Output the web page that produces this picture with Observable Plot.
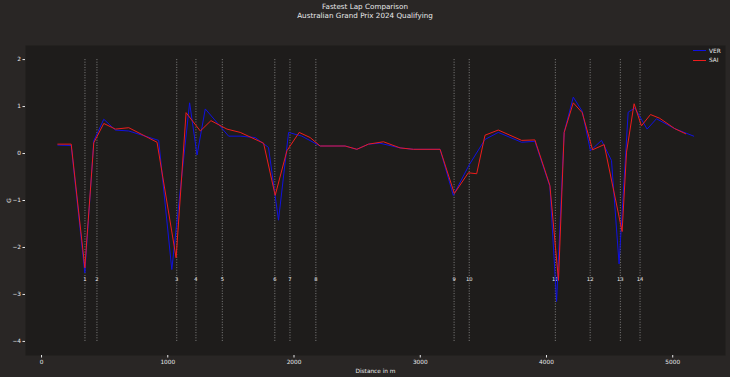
<!DOCTYPE html>
<html>
<head>
<meta charset="utf-8">
<script src="https://cdn.jsdelivr.net/npm/d3@7"></script>
<script src="https://cdn.jsdelivr.net/npm/@observablehq/plot@0.6"></script>
<style>
  html, body { margin: 0; padding: 0; background: #292625; }
  #page { position: relative; width: 730px; height: 377px; background: #292625; font-family: "DejaVu Sans", sans-serif; color: #e8e8ea; }
  #title { height: 24px; text-align: center; font-size: 7.2px; line-height: 9px; padding-top: 2px; box-sizing: border-box; }
  #legend { position: absolute; left: 689px; top: 46px; width: 34px; font-size: 5.8px; }
  .row { display: flex; align-items: center; height: 9.5px; }
  .sw { width: 13px; height: 0; border-top: 1.2px solid; margin-right: 3px; margin-left: 4px; }
</style>
</head>
<body>
<div id="page">
  <div id="title">Fastest Lap Comparison<br>Australian Grand Prix 2024 Qualifying</div>
  <div id="chart"></div>
  <div id="legend"></div>
</div>
<script>
// Data
const drivers = ["VER", "SAI"];
const driverColors = ["#1010e0", "#ee1c1c"];

const verDist = [129, 235, 343, 414, 493, 585, 691, 928, 1032, 1173, 1232, 1297, 1482, 1574, 1693, 1798, 1877, 1957, 2062, 2207, 2405, 2498, 2590, 2680, 2840, 2945, 3157, 3262, 3388, 3513, 3618, 3803, 3908, 4027, 4080, 4140, 4212, 4283, 4348, 4436, 4515, 4575, 4647, 4700, 4797, 4871, 5016, 5166];
const verVal  = [0.18, 0.17, -2.54, 0.27, 0.73, 0.50, 0.48, 0.28, -2.47, 1.08, -0.03, 0.95, 0.37, 0.37, 0.34, 0.13, -1.42, 0.45, 0.37, 0.16, 0.16, 0.09, 0.20, 0.22, 0.12, 0.09, 0.09, -0.89, -0.24, 0.30, 0.45, 0.24, 0.26, -0.70, -3.15, 0.45, 1.20, 0.90, 0.06, 0.28, -0.15, -2.35, 0.88, 0.97, 0.52, 0.74, 0.53, 0.37];

const saiDist = [129, 235, 343, 414, 493, 585, 691, 915, 1066, 1145, 1258, 1342, 1469, 1574, 1759, 1851, 1944, 2041, 2128, 2207, 2405, 2498, 2590, 2709, 2840, 2945, 3157, 3270, 3381, 3447, 3513, 3618, 3803, 3908, 4027, 4095, 4140, 4212, 4283, 4365, 4457, 4599, 4634, 4694, 4752, 4824, 4897, 5016, 5103];
const saiVal  = [0.20, 0.20, -2.43, 0.23, 0.64, 0.52, 0.55, 0.24, -2.22, 0.87, 0.48, 0.70, 0.52, 0.45, 0.22, -0.89, 0.06, 0.45, 0.34, 0.16, 0.16, 0.09, 0.20, 0.25, 0.12, 0.09, 0.09, -0.85, -0.41, -0.43, 0.39, 0.50, 0.28, 0.29, -0.68, -2.70, 0.45, 1.08, 0.87, 0.08, 0.19, -1.66, 0.03, 1.06, 0.59, 0.83, 0.75, 0.53, 0.42];

const cornerNumbers = ["1", "2", "3", "4", "5", "6", "7", "8", "9", "10", "11", "12", "13", "14"];
const cornerDist = [344, 439, 1071, 1223, 1432, 1848, 1968, 2173, 3268, 3388, 4070, 4346, 4585, 4741];
const cornerLineRange = [-4, 2];
const cornerLabelY = -2.68;

const xTicks = [0, 1000, 2000, 3000, 4000, 5000];
const yTicks = [-4, -3, -2, -1, 0, 1, 2];
const xLimits = [-127, 5418];
const yLimits = [-4.3, 2.3];

const ver = verDist.map((d, i) => ({d, v: verVal[i]}));
const sai = saiDist.map((d, i) => ({d, v: saiVal[i]}));
const corners = cornerDist.map((d, i) => ({d, n: cornerNumbers[i], y1: cornerLineRange[0], y2: cornerLineRange[1], ly: cornerLabelY}));

const fmt = d => (d < 0 ? "\u2212" + Math.abs(d) : String(d));

const chart = Plot.plot({
  width: 730,
  height: 353,
  marginLeft: 25,
  marginRight: 5,
  marginTop: 21,
  marginBottom: 22,
  style: {background: "transparent", color: "#e8e8ea", fontFamily: "DejaVu Sans, sans-serif", fontSize: "5.8px"},
  x: {domain: xLimits},
  y: {domain: yLimits},
  marks: [
    Plot.frame({fill: "#1e1c1b", stroke: "none"}),
    Plot.axisX({ticks: xTicks, tickFormat: fmt, tickSize: 2.5, tickPadding: 2, stroke: "#e8e8ea", label: "Distance in m", labelAnchor: "center", labelArrow: "none", labelOffset: 17}),
    Plot.axisY({ticks: yTicks, tickFormat: fmt, tickSize: 2.5, tickPadding: 2, stroke: "#e8e8ea", label: "G", labelAnchor: "center", labelArrow: "none", labelOffset: 19}),
    Plot.ruleX(corners, {x: "d", y1: "y1", y2: "y2", stroke: "#9a9a9a", strokeWidth: 0.8, strokeDasharray: "1,1.6"}),
    Plot.text(corners, {x: "d", y: "ly", text: "n", fill: "#e8e8ea", fontSize: 5.2}),
    Plot.line(ver, {x: "d", y: "v", stroke: driverColors[0], strokeWidth: 1}),
    Plot.line(sai, {x: "d", y: "v", stroke: driverColors[1], strokeWidth: 1})
  ]
});
document.getElementById("chart").appendChild(chart);

const legend = document.getElementById("legend");
drivers.forEach((name, i) => {
  const row = document.createElement("div");
  row.className = "row";
  const sw = document.createElement("span");
  sw.className = "sw";
  sw.style.borderTopColor = driverColors[i];
  const lb = document.createElement("span");
  lb.textContent = name;
  row.appendChild(sw);
  row.appendChild(lb);
  legend.appendChild(row);
});
</script>
</body>
</html>
